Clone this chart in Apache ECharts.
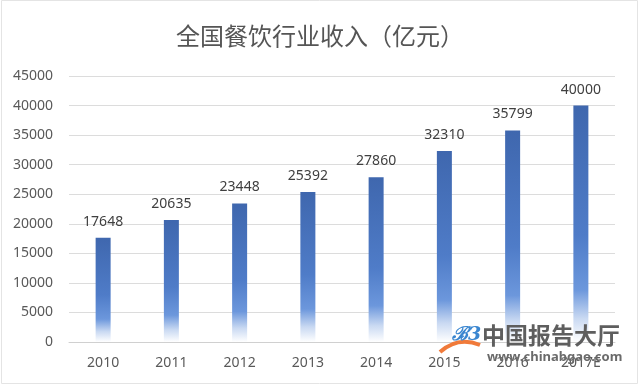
<!DOCTYPE html>
<html><head><meta charset="utf-8">
<script src="https://cdn.jsdelivr.net/npm/echarts@6/dist/echarts.min.js"></script>
<style>html,body{margin:0;padding:0;background:#fff}#c{width:640px;height:385px}</style>
</head><body><div id="c"></div>
<script>
const categories = ['2010','2011','2012','2013','2014','2015','2016','2017E'];
const revenue = [17648, 20635, 23448, 25392, 27860, 32310, 35799, 40000];
const yTicks = [0,5000,10000,15000,20000,25000,30000,35000,40000,45000];

const chart = echarts.init(document.getElementById('c'));
chart.setOption({
  backgroundColor: '#fff',
  animation: false,
  title: {
    text: '全国餐饮行业收入（亿元）',
    left: 'center', top: 19,
    textStyle: {fontFamily: 'Noto Sans CJK SC', fontSize: 24, fontWeight: 'normal', color: '#555555'}
  },
  grid: {left: 69, right: 25, top: 76, bottom: 43},
  xAxis: {
    type: 'category', data: categories,
    axisLine: {lineStyle: {color: '#d0d0d0'}},
    axisTick: {show: false},
    axisLabel: {color: '#595959', fontSize: 14, fontFamily: 'Noto Sans', margin: 14}
  },
  yAxis: {
    type: 'value', min: yTicks[0], max: yTicks[yTicks.length - 1], interval: 5000,
    axisLine: {show: false}, axisTick: {show: false},
    splitLine: {lineStyle: {color: '#dcdcdc'}},
    axisLabel: {color: '#595959', fontSize: 14, fontFamily: 'Noto Sans', margin: 16, formatter: v => String(v)}
  },
  series: [{
    type: 'bar', data: revenue, barWidth: 15,
    itemStyle: {
      color: new echarts.graphic.LinearGradient(0, 0, 0, 1, [
        {offset: 0, color: '#3f67ae'},
        {offset: 0.55, color: '#4f7cc8'},
        {offset: 0.78, color: '#6c97dc'},
        {offset: 0.9, color: '#c9d9f2'},
        {offset: 1, color: '#ffffff'}
      ])
    },
    label: {show: true, position: 'top', distance: 9, color: '#404040', fontSize: 14, fontFamily: 'Noto Sans'}
  }],
  graphic: [
    {type: 'rect', shape: {x: 1.5, y: 0.5, width: 636, height: 383}, style: {fill: 'none', stroke: '#e4e4e4', lineWidth: 1}, silent: true},
    {type: 'bezierCurve', z: 100, shape: {x1: 440, y1: 352, x2: 480, y2: 345, cpx1: 458, cpy1: 336}, style: {stroke: '#f07a3a', lineWidth: 4, fill: 'none'}},
    {type: 'text', left: 452, top: 326, z: 101, style: {text: 'ℬ3', fill: '#3a86d0', font: 'italic bold 19px "DejaVu Serif"'}},
    {type: 'text', left: 482, top: 324, style: {text: '中国报告大厅', fill: '#5e5e5e', font: 'bold 23px "Noto Sans CJK SC"'}, z: 100},
    {type: 'text', left: 487, top: 351, style: {text: 'www.chinabgao.com', fill: '#6a6a6a', font: 'bold 13px "Noto Sans"'}, z: 100}
  ]
});
</script></body></html>
